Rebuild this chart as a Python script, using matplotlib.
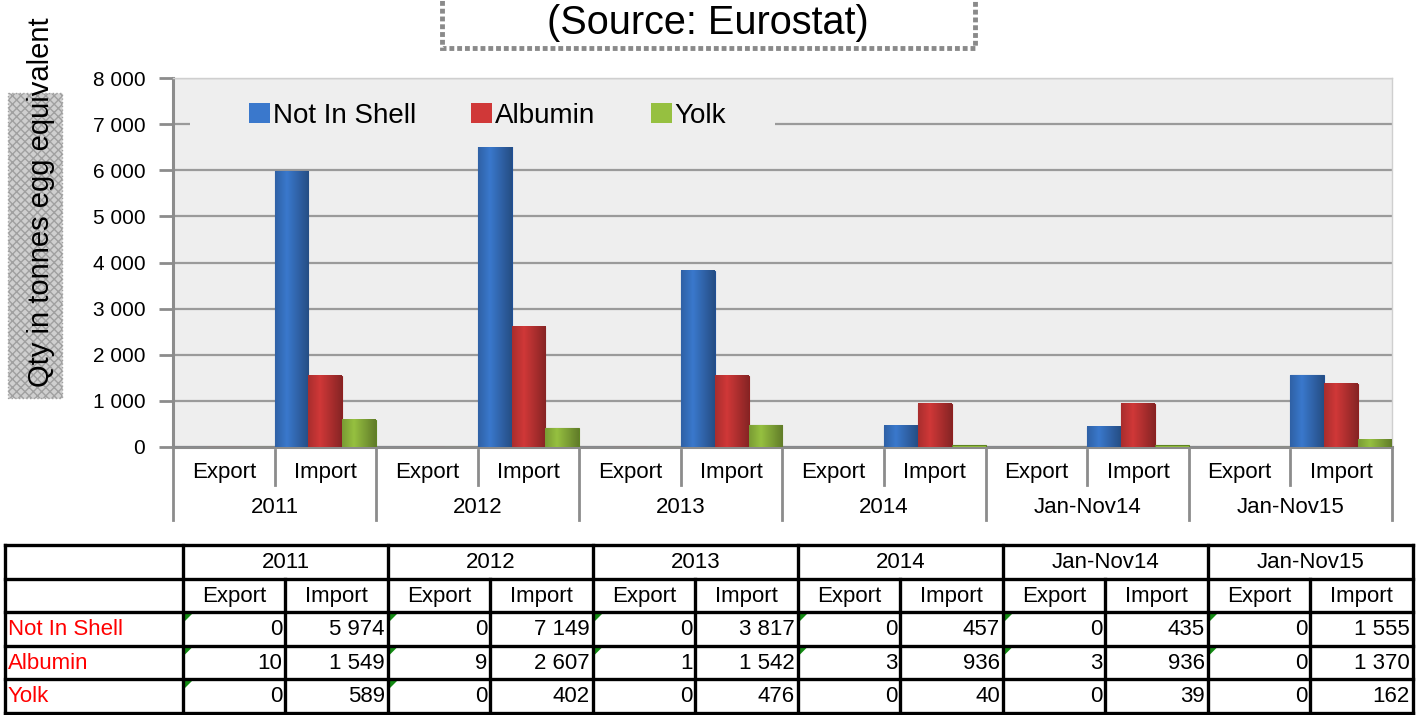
import numpy as np
import matplotlib
matplotlib.use("Agg")
import matplotlib.pyplot as plt
from matplotlib.patches import Rectangle, Polygon
from matplotlib.lines import Line2D

plt.rcParams['font.family'] = ['Liberation Sans', 'DejaVu Sans']
plt.rcParams['hatch.color'] = '#8a8a8a'

# data (tonnes egg equivalent)
periods = ['2011', '2012', '2013', '2014', 'Jan-Nov14', 'Jan-Nov15']
flows = ['Export', 'Import']
series = ['Not In Shell', 'Albumin', 'Yolk']
not_in_shell = [0, 5974, 0, 7149, 0, 3817, 0, 457, 0, 435, 0, 1555]
albumin = [10, 1549, 9, 2607, 1, 1542, 3, 936, 3, 936, 0, 1370]
yolk = [0, 589, 0, 402, 0, 476, 0, 40, 0, 39, 0, 162]
colors = ['#3a78cc', '#d03838', '#96c040']
edges = ['#1f4f95', '#8e1f1f', '#5f8422']

W, H = 1425, 715
fig = plt.figure(figsize=(W / 100, H / 100), dpi=100)

ax = fig.add_axes([173 / W, 1 - 447 / H, 1219 / W, 369 / H])
ax.set_facecolor('#eeeeee')
x = np.arange(len(not_in_shell))
bw = 1 / 3
for i, vals in enumerate([not_in_shell, albumin, yolk]):
    bars = ax.bar(x + (i - 1) * bw, vals, bw, color=colors[i], edgecolor=edges[i],
                  linewidth=0.8, label=series[i], zorder=3)
    # simple shading to hint at the 3D look
    for b in bars:
        if b.get_height() < 50:
            continue
        grad = np.linspace(0, 1, 50)
        shade = 1 - 0.35 * np.abs(grad - 0.35) / 0.65
        img = np.ones((1, 50, 4))
        img[0, :, :3] = np.array(matplotlib.colors.to_rgb(colors[i]))[None, :] * shade[:, None]
        ax.imshow(img, extent=[b.get_x(), b.get_x() + b.get_width(), 0, b.get_height()],
                  aspect='auto', zorder=3.5, interpolation='bilinear')

ax.set_xlim(-0.5, len(x) - 0.5)
ax.set_ylim(0, 8000)
ax.set_yticks(np.arange(0, 8001, 1000))
ax.set_yticklabels([f"{v:,}".replace(',', ' ') for v in range(0, 8001, 1000)], fontsize=15)
ax.tick_params(axis='y', length=10, width=2, color='#8c8c8c', pad=10)
ax.set_xticks([])
ax.grid(axis='y', color='#9a9a9a', linewidth=1.6, zorder=1)
for s in ['left', 'bottom']:
    ax.spines[s].set_color('#8c8c8c')
    ax.spines[s].set_linewidth(2.2)
for s in ['top', 'right']:
    ax.spines[s].set_color('#cfcfcf')
    ax.spines[s].set_linewidth(1)

# legend box hides the grid line and the top of the tallest bar, as in Excel
ax.add_patch(Rectangle((0.014, 0.813), 0.48, 0.13, transform=ax.transAxes,
                       facecolor='#eeeeee', edgecolor='none', zorder=4))
leg = ax.legend(loc='center left', bbox_to_anchor=(0.0476, 0.897), ncol=3, fontsize=20,
                frameon=False, handlelength=0.75, handleheight=0.75, handletextpad=0.1,
                columnspacing=2.0, borderpad=0.65, borderaxespad=0)
leg.set_zorder(5)
for h in leg.legend_handles:
    h.set_linewidth(0)

# two-level category axis
tr = ax.get_xaxis_transform()
for k, p in enumerate(periods):
    for j, f in enumerate(flows):
        ax.text(2 * k + j, -0.068, f, transform=tr, ha='center', va='center', fontsize=16)
    ax.text(2 * k + 0.5, -0.165, p, transform=tr, ha='center', va='center', fontsize=16)
    ax.add_line(Line2D([2 * k + 0.5] * 2, [-0.008, -0.103], transform=tr, color='#8c8c8c',
                       lw=2, clip_on=False))
for k in range(len(periods) + 1):
    ax.add_line(Line2D([2 * k - 0.5] * 2, [0, -0.198], transform=tr, color='#8c8c8c',
                       lw=2, clip_on=False))

# overlay in pixel coordinates for title box, axis title and table
ov = fig.add_axes([0, 0, 1, 1], zorder=10)
ov.set_xlim(0, W)
ov.set_ylim(H, 0)
ov.axis('off')
ov.patch.set_alpha(0)

ov.add_patch(Rectangle((442, -10), 533, 58, facecolor='white', edgecolor='#8a8a8a',
                       lw=3.5, linestyle=(0, (1, 0.6))))
ov.text(708, 23, '(Source: Eurostat)', ha='center', va='center', fontsize=28.5)

ov.add_patch(Rectangle((8, 93), 54, 305, facecolor='#cfcfcf', edgecolor='#a0a0a0',
                       hatch='xxxx', lw=1, linestyle=':'))
ov.text(41, 202, 'Qty in tonnes egg equivalent', rotation=90, ha='center', va='center',
        fontsize=21)

# data table
x0, c0 = 5, 183
cw = 102.5
rows_y = [545, 578.5, 612, 645.5, 679, 712.5]
lw_t = 2.4
ncol = len(not_in_shell)
x_end = c0 + cw * ncol
for y in rows_y:
    ov.plot([x0, x_end], [y, y], color='black', lw=lw_t, solid_capstyle='projecting')
ov.plot([x0, x0], [rows_y[0], rows_y[-1]], color='black', lw=lw_t)
for c in range(ncol + 1):
    xx = c0 + c * cw
    top = rows_y[0] if c % 2 == 0 else rows_y[1]
    ov.plot([xx, xx], [top, rows_y[-1]], color='black', lw=lw_t)

for k, p in enumerate(periods):
    ov.text(c0 + (2 * k + 1) * cw, (rows_y[0] + rows_y[1]) / 2 + 1, p, ha='center',
            va='center', fontsize=16)
    for j, f in enumerate(flows):
        ov.text(c0 + (2 * k + j + 0.5) * cw, (rows_y[1] + rows_y[2]) / 2 + 1, f,
                ha='center', va='center', fontsize=16)

for r, (name, vals) in enumerate(zip(series, [not_in_shell, albumin, yolk])):
    yc = (rows_y[r + 2] + rows_y[r + 3]) / 2 + 1
    ov.text(x0 + 3, yc, name, ha='left', va='center', fontsize=16, color='#ff0000')
    for c, v in enumerate(vals):
        ov.text(c0 + (c + 1) * cw - 3, yc, f"{v:,}".replace(',', ' '), ha='right',
                va='center', fontsize=16)
        if c % 2 == 0 and (r < 2 or c < 4):
            xl, yt = c0 + c * cw + 2, rows_y[r + 2] + 2
            ov.add_patch(Polygon([[xl, yt], [xl + 7, yt], [xl, yt + 7]], closed=True,
                                 color='#128a12', lw=0))

fig.savefig('out.png', dpi=100)
